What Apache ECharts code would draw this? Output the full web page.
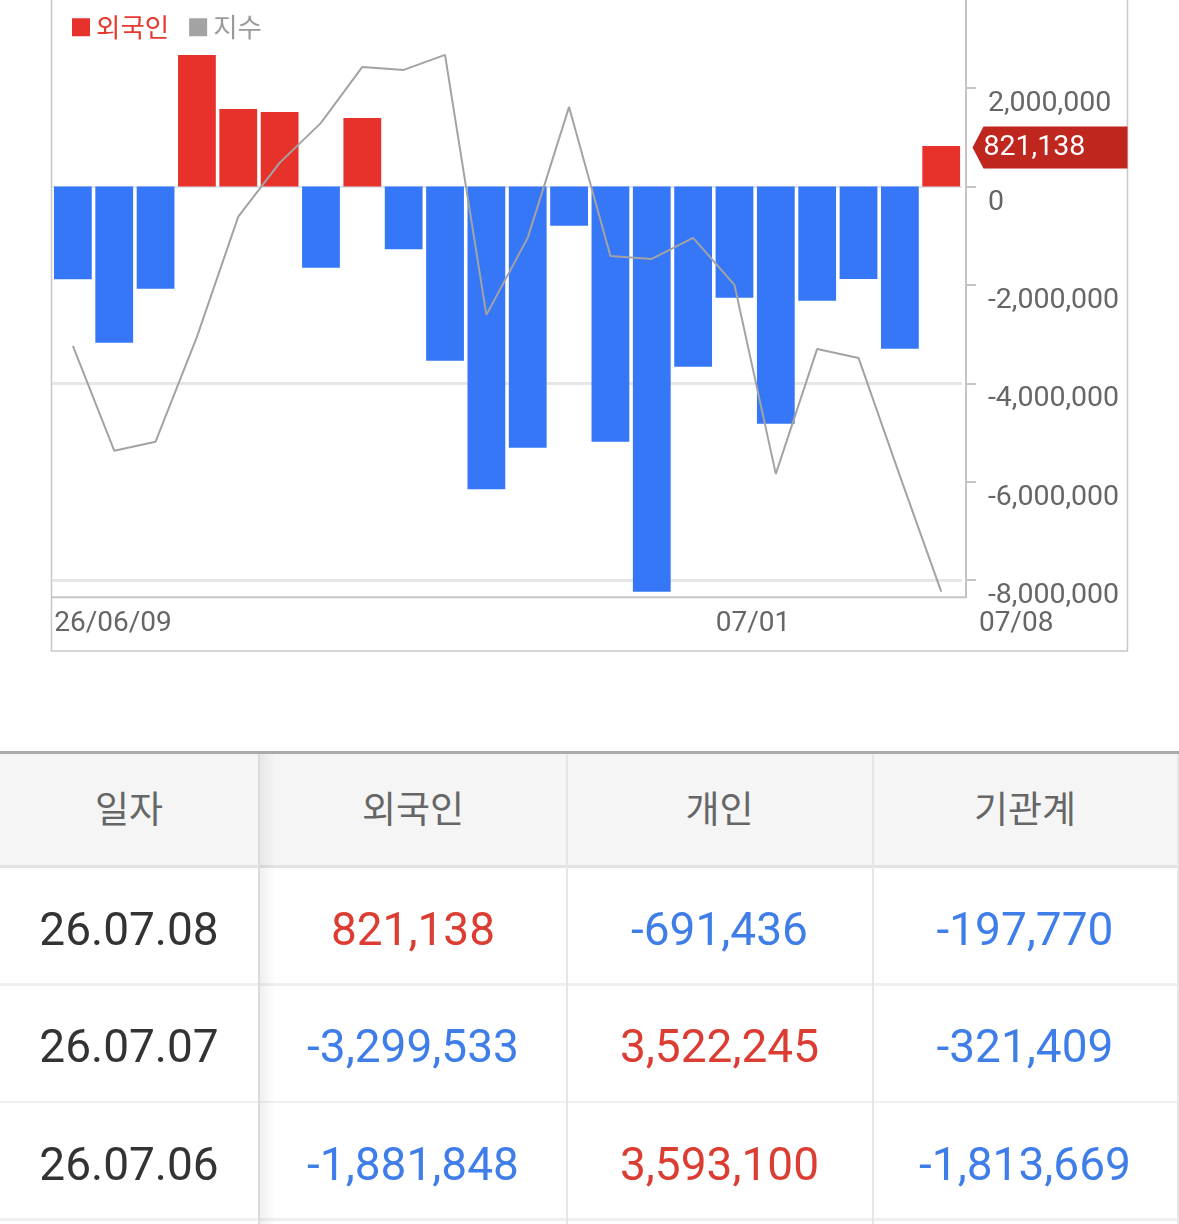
<!DOCTYPE html>
<html>
<head>
<meta charset="utf-8">
<script src="https://cdn.jsdelivr.net/npm/echarts@6/dist/echarts.min.js"></script>
<style>
html,body{margin:0;padding:0;background:#fff;width:1179px;height:1224px;overflow:hidden;}
#chart{position:absolute;left:0;top:0;width:1179px;height:660px;}
#table{position:absolute;left:0;top:0;width:1179px;height:1224px;pointer-events:none;}
.cell{position:absolute;display:flex;align-items:center;justify-content:center;white-space:nowrap;}
.hd{font-family:'Noto Sans CJK KR','Noto Sans',sans-serif;font-size:37px;color:#666;}
.bd{font-family:Roboto,'Noto Sans',sans-serif;font-size:46px;}
.ln{position:absolute;}
</style>
</head>
<body>
<div id="chart"></div>
<div id="table"></div>
<script>
// ---------- chart data ----------
const dates = ['06/09','06/10','06/11','06/12','06/15','06/16','06/17','06/18','06/19','06/22','06/23',
               '06/24','06/25','06/26','06/29','06/30','07/01','07/02','07/03','07/06','07/07','07/08'];
const foreignNet = [-1885000,-3175000,-2077000,2673000,1575000,1514000,-1650000,1392000,-1277000,-3540000,-6155000,
                    -5309000,-797000,-5187000,-8236000,-3663000,-2260000,-4821000,-2321000,-1881848,-3299533,821138];
const indexValues = [2925.7,2873.3,2877.8,2930.2,2990.3,3017.2,3037.2,3065.2,3063.7,3071.2,2941.2,
                     2979.7,3045.2,2970.7,2969.2,2979.7,2956.2,2861.7,2924.2,2919.7,2860.7,2802.8];
const yTickValues = [-8000000,-6000000,-4000000,-2000000,0,2000000];
const gridLineValues = [-8000000,-4000000];
const xTickSlots = [0,16,22];
const xTickLabels = ['26/06/09','07/01','07/08'];
const seriesNames = ['외국인','지수'];

// ---------- table data ----------
const tableHeaders = ['일자','외국인','개인','기관계'];
const tableDates = ['26.07.08','26.07.07','26.07.06'];
const tableForeign = [821138,-3299533,-1881848];
const tablePersonal = [-691436,3522245,3593100];
const tableInst = [-197770,-321409,-1813669];

const RED = '#e7322b', BLUE = '#3577f6', GRAY_LINE = '#a3a3a3';
const fmt = v => Number(v).toLocaleString('en-US');
const numFont = "Roboto, 'Noto Sans', sans-serif";
const krFont = "'Noto Sans CJK KR', 'Noto Sans', sans-serif";

const chart = echarts.init(document.getElementById('chart'), null, {renderer:'canvas'});
const lastIdx = foreignNet.length - 1;

chart.setOption({
  animation:false,
  backgroundColor:'#fff',
  grid:{left:52.2, top:0, width:909.7, height:597.3, containLabel:false, outerBoundsMode:'none'},
  legend:{
    left:72, top:14, padding:0, itemGap:20, itemWidth:18, itemHeight:18, icon:'rect',
    textStyle:{fontSize:26.5, fontFamily:krFont, padding:[0,0,0,1]},
    data:[
      {name:seriesNames[0], itemStyle:{color:RED}, textStyle:{color:'#e5392f'}},
      {name:seriesNames[1], itemStyle:{color:GRAY_LINE}, textStyle:{color:'#9a9a9a'}}
    ],
    selectedMode:false
  },
  xAxis:[
    {type:'category', data:dates, boundaryGap:true, axisLine:{show:false}, axisTick:{show:false},
     axisLabel:{show:false}, splitLine:{show:false}},
    {type:'value', min:0, max:22, position:'bottom', axisLine:{show:false, onZero:false}, axisTick:{show:false},
     splitLine:{show:false},
     axisLabel:{
       customValues:xTickSlots, align:'left', margin:13,
       color:'#666', fontSize:28, fontFamily:numFont,
       formatter:function(v){
         const i = xTickSlots.indexOf(v);
         const t = xTickLabels[i];
         return i === xTickSlots.length - 1 ? '{e|' + t + '}' : '{s|' + t + '}';
       },
       rich:{
         s:{color:'#666', fontSize:28, fontFamily:numFont, padding:[0,0,0,2]},
         e:{color:'#666', fontSize:28, fontFamily:numFont, padding:[0,0,0,17]}
       }
     }}
  ],
  yAxis:[
    {type:'value', position:'right', offset:4, min:-8350000, max:3790000,
     axisLine:{show:true, onZero:false, lineStyle:{color:'#c4c4c4', width:2}},
     axisTick:{show:true, length:10, customValues:yTickValues, lineStyle:{color:'#c4c4c4', width:2}},
     axisLabel:{customValues:yTickValues, formatter:fmt, color:'#666', fontSize:28.5, fontFamily:numFont,
                verticalAlign:'top', align:'left', margin:22, lineHeight:32},
     splitLine:{show:false}},
    {type:'value', min:2800, max:3098.65, show:false, splitLine:{show:false}, axisLine:{onZero:false}}
  ],
  graphic:[
    {type:'rect', shape:{x:51.5, y:-20, width:1076, height:671}, style:{fill:'none', stroke:'#c8c8c8', lineWidth:1.5}, z:-1, silent:true},
    {type:'line', shape:{x1:51, y1:597.3, x2:966, y2:597.3}, style:{stroke:'#c4c4c4', lineWidth:2}, z:10, silent:true}
  ],
  series:[
    {name:seriesNames[0], type:'bar', xAxisIndex:0, yAxisIndex:0, data:foreignNet, barWidth:'91.4%',
     clip:false,
     itemStyle:{color:function(p){ return p.value >= 0 ? RED : BLUE; }},
     markLine:{
       silent:true, symbol:['none','none'], z:1, label:{show:false},
       data:[
         ...gridLineValues.map(v => ({yAxis:v, lineStyle:{color:'#e6e6e6', width:3, type:'solid'}})),
         {yAxis:0, lineStyle:{color:'#dfe5ee', width:2, type:'solid'}}
       ]
     },
     markPoint:{
       silent:true,
       data:[{
         coord:[dates[lastIdx], foreignNet[lastIdx]],
         value:foreignNet[lastIdx],
         symbol:'path://M0,21 L11,0 L155,0 L155,42 L11,42 Z',
         symbolSize:[155,42],
         symbolOffset:[108.8,1.5],
         symbolKeepAspect:false,
         itemStyle:{color:'#bf261d'},
         label:{show:true, position:'insideLeft', distance:11, color:'#fff', fontSize:28.5, fontFamily:numFont,
                formatter:function(p){ return fmt(p.value); }}
       }]
     }
    },
    {name:seriesNames[1], type:'line', xAxisIndex:0, yAxisIndex:1, data:indexValues, symbol:'none',
     lineStyle:{color:GRAY_LINE, width:2}, itemStyle:{color:GRAY_LINE}, z:5}
  ]
});

// ---------- table ----------
const T = document.getElementById('table');
function add(html){ T.insertAdjacentHTML('beforeend', html); }
const colL = [0, 260, 567, 873];
const colR = [258, 566, 872, 1177];
const headTop = 754, headBot = 865;
const rowTop0 = 868, rowPitch = 117.5, rowH = 115;
add(`<div class="ln" style="left:0;top:751px;width:1179px;height:3px;background:#ababab"></div>`);
add(`<div class="ln" style="left:0;top:${headTop}px;width:1178px;height:${headBot-headTop}px;background:#f5f5f5"></div>`);
add(`<div class="ln" style="left:0;top:${headBot}px;width:1179px;height:3px;background:#e3e3e3"></div>`);
for (let r = 0; r < tableDates.length; r++) {
  const y = rowTop0 + r*rowPitch + rowH;
  add(`<div class="ln" style="left:0;top:${y}px;width:1179px;height:2.5px;background:#efefef"></div>`);
}
[[258,'#dcdcdc'],[566,'#e6e6e6'],[872,'#e6e6e6'],[1177,'#e6e6e6']].forEach(([x,c]) => {
  add(`<div class="ln" style="left:${x}px;top:754px;width:2px;height:470px;background:${c}"></div>`);
});
add(`<div class="ln" style="left:260px;top:754px;width:16px;height:470px;background:linear-gradient(to right, rgba(0,0,0,0.06), rgba(0,0,0,0))"></div>`);
tableHeaders.forEach((h,i) => {
  add(`<div class="cell hd" style="left:${colL[i]}px;top:${headTop-3}px;width:${colR[i]-colL[i]}px;height:${headBot-headTop}px">${h}</div>`);
});
const colorOf = v => v >= 0 ? '#dc3d32' : '#3f7ee9';
tableDates.forEach((d,r) => {
  const y = rowTop0 + r*rowPitch + 3;
  const vals = [tableForeign[r], tablePersonal[r], tableInst[r]];
  add(`<div class="cell bd" style="left:${colL[0]}px;top:${y}px;width:${colR[0]-colL[0]}px;height:${rowH}px;color:#333">${d}</div>`);
  vals.forEach((v,k) => {
    const i = k+1;
    add(`<div class="cell bd" style="left:${colL[i]}px;top:${y}px;width:${colR[i]-colL[i]}px;height:${rowH}px;color:${colorOf(v)}">${fmt(v)}</div>`);
  });
});
</script>
</body>
</html>
